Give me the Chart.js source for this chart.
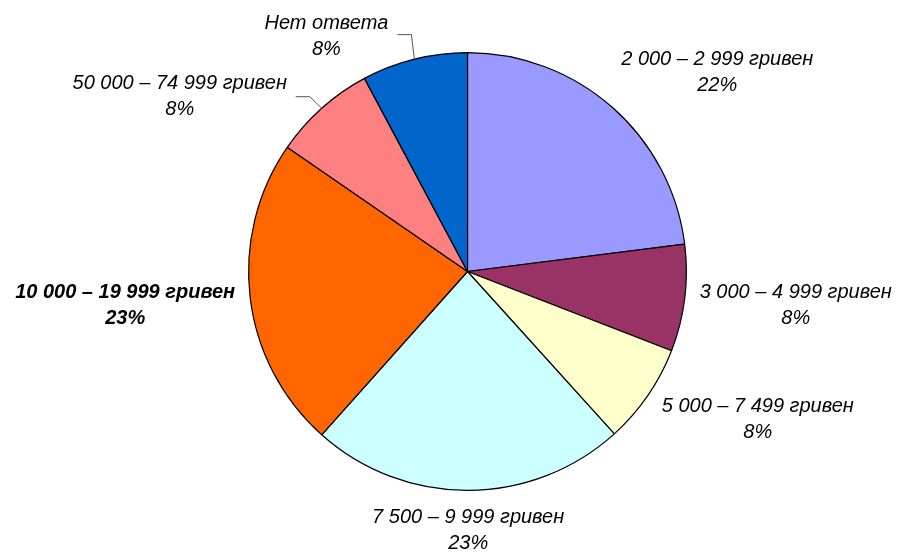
<!DOCTYPE html>
<html>
<head>
<meta charset="utf-8">
<script src="https://cdn.jsdelivr.net/npm/chart.js@4"></script>
<style>
  html, body { margin: 0; padding: 0; background: #fff; }
  #wrap { width: 899px; height: 554px; position: relative; }
</style>
</head>
<body>
<div id="wrap"><canvas id="incomeChart"></canvas></div>
<script>
// categories, clockwise from 12 o'clock
const categories = [
  '2 000 – 2 999 гривен',
  '3 000 – 4 999 гривен',
  '5 000 – 7 499 гривен',
  '7 500 – 9 999 гривен',
  '10 000 – 19 999 гривен',
  '50 000 – 74 999 гривен',
  'Нет ответа'
];
// slice shares
const shares = [23.0, 7.9, 7.4, 23.3, 23.0, 7.6, 7.8];
// percent labels as printed
const percentLabels = ['22%', '8%', '8%', '23%', '23%', '8%', '8%'];
const sliceColors = ['#9999FF', '#993366', '#FFFFCC', '#CCFFFF', '#FF6600', '#FF8080', '#0066CC'];

// label placement relative to the slice's outer mid point
const labelOffsets = [[105, -35], [111, 7], [110, 24], [0, 40], [-125, 8], [-142, -12], [-88, -23]];
const boldLabels = [false, false, false, false, true, false, false];
// leader lines: elbow and end, relative to the outer mid point
const leaders = {
  5: [[-12, -11.5], [-26, -11.5]],
  6: [[-3, -24.5], [-17, -24.5]]
};

const pieLabels = {
  id: 'pieLabels',
  afterDraw(chart) {
    const ctx = chart.ctx;
    const arcs = chart.getDatasetMeta(0).data;
    ctx.save();
    arcs.forEach((arc, i) => {
      const { x, y, startAngle, endAngle, outerRadius } = arc.getProps(['x', 'y', 'startAngle', 'endAngle', 'outerRadius'], true);
      const mid = (startAngle + endAngle) / 2;
      const ax = x + Math.cos(mid) * outerRadius;
      const ay = y + Math.sin(mid) * outerRadius;

      if (leaders[i]) {
        ctx.strokeStyle = '#555';
        ctx.lineWidth = 1;
        ctx.beginPath();
        ctx.moveTo(ax, ay);
        ctx.lineTo(ax + leaders[i][0][0], ay + leaders[i][0][1]);
        ctx.lineTo(ax + leaders[i][1][0], ay + leaders[i][1][1]);
        ctx.stroke();
      }

      const lx = ax + labelOffsets[i][0];
      const ly = ay + labelOffsets[i][1];
      ctx.fillStyle = '#000';
      ctx.textAlign = 'center';
      ctx.textBaseline = 'middle';
      ctx.font = (boldLabels[i] ? 'italic bold ' : 'italic ') + '20px "Liberation Sans", Arial, sans-serif';
      ctx.fillText(categories[i], lx, ly - 13);
      ctx.fillText(percentLabels[i], lx, ly + 13);
    });
    ctx.restore();
  }
};

const ctx = document.getElementById('incomeChart');
new Chart(ctx, {
  type: 'pie',
  data: {
    labels: categories,
    datasets: [{
      data: shares,
      backgroundColor: sliceColors,
      borderColor: '#000',
      borderWidth: 1.2
    }]
  },
  options: {
    responsive: true,
    maintainAspectRatio: false,
    animation: false,
    layout: { padding: { top: 52, bottom: 63, left: 248, right: 212 } },
    plugins: {
      legend: { display: false },
      tooltip: { enabled: false }
    }
  },
  plugins: [pieLabels]
});
</script>
</body>
</html>
